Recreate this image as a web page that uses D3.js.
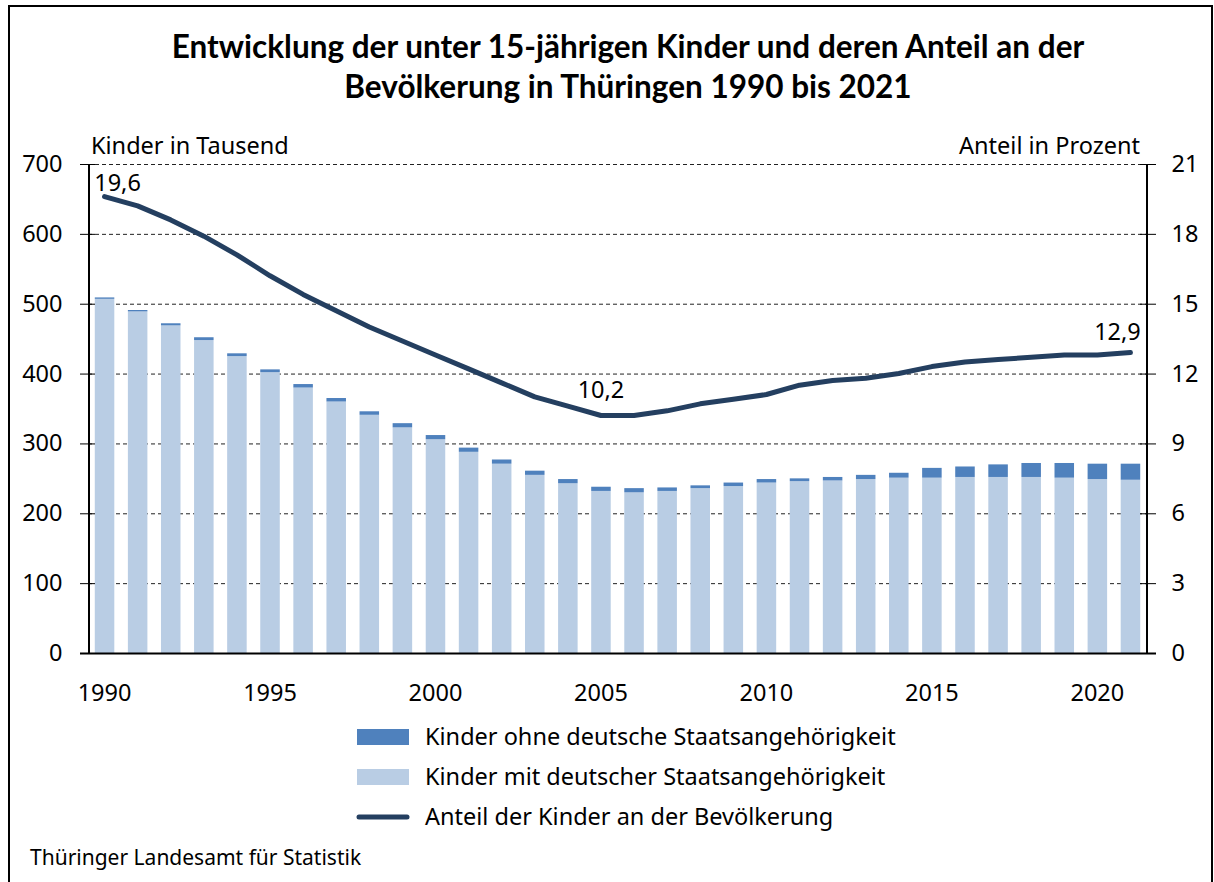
<!DOCTYPE html>
<html>
<head>
<meta charset="utf-8">
<script src="https://cdn.jsdelivr.net/npm/d3@7"></script>
<style>
  body { margin: 0; background: #fff; }
  svg text { font-family: "Noto Sans", "Lato", sans-serif; fill: #000; }
</style>
</head>
<body>
<div id="chart"></div>
<script>
//////// DATA ////////
var years = [1990, 1991, 1992, 1993, 1994, 1995, 1996, 1997, 1998, 1999,
             2000, 2001, 2002, 2003, 2004, 2005, 2006, 2007, 2008, 2009,
             2010, 2011, 2012, 2013, 2014, 2015, 2016, 2017, 2018, 2019,
             2020, 2021];
// Kinder mit deutscher Staatsangehörigkeit (Tausend)
var german = [507, 489, 469, 448, 425, 402, 380, 360, 341, 323,
              306, 288, 271, 255, 243, 232, 230, 232, 236, 239,
              244, 246, 247, 249, 251, 251, 252, 252, 252, 251,
              249, 248];
// Kinder ohne deutsche Staatsangehörigkeit (Tausend)
var foreign = [2, 2, 3, 4, 4, 4, 5, 5, 5, 6,
               6, 6, 6, 6, 6, 6, 6, 5, 4, 5,
               5, 4, 5, 6, 7, 14, 15, 18, 20, 21,
               22, 23];
// Anteil der Kinder an der Bevölkerung (Prozent)
var share = [19.6, 19.2, 18.6, 17.9, 17.1, 16.2, 15.4, 14.7, 14.0, 13.4,
             12.8, 12.2, 11.6, 11.0, 10.6, 10.2, 10.2, 10.4, 10.7, 10.9,
             11.1, 11.5, 11.7, 11.8, 12.0, 12.3, 12.5, 12.6, 12.7, 12.8,
             12.8, 12.9];
var leftTicks = [0, 100, 200, 300, 400, 500, 600, 700];
var rightTicks = [0, 3, 6, 9, 12, 15, 18, 21];
var xLabelYears = [1990, 1995, 2000, 2005, 2010, 2015, 2020];
var labelYears = [1990, 2005, 2021];
var legendItems = ["Kinder ohne deutsche Staatsangehörigkeit",
                   "Kinder mit deutscher Staatsangehörigkeit",
                   "Anteil der Kinder an der Bevölkerung"];

//////// CANVAS ////////
var width = 1214, height = 882;
var colDark = "#4f81bd", colLight = "#b9cde4", colLine = "#243f60";
var fs = "23.5px";

var svg = d3.select("#chart").append("svg")
    .attr("width", width).attr("height", height);

// frame
svg.append("path")
    .attr("d", "M9,884 L9,6 L1212,6 L1212,884")
    .attr("fill", "none").attr("stroke", "#000").attr("stroke-width", 2);

// title
var title = svg.append("text").attr("text-anchor", "middle")
    .style("font-family", "Lato, sans-serif")
    .style("font-weight", "bold").style("font-size", "31.5px");
title.append("tspan").attr("x", 628).attr("y", 58)
    .text("Entwicklung der unter 15-jährigen Kinder und deren Anteil an der");
title.append("tspan").attr("x", 628).attr("y", 98)
    .text("Bevölkerung in Thüringen 1990 bis 2021");

//////// SCALES ////////
var x = d3.scaleBand().domain(years).range([88, 1147])
    .paddingInner(0.41).paddingOuter(0.205);
var y = d3.scaleLinear().domain([0, 700]).range([653, 164]);
var y2 = d3.scaleLinear().domain([0, 21]).range([653, 164]);

// gridlines
svg.append("g").selectAll("line")
    .data(leftTicks.filter(function(d) { return d > 0; }))
    .enter().append("line")
    .attr("x1", 88).attr("x2", 1147)
    .attr("y1", function(d) { return y(d) + 0.5; })
    .attr("y2", function(d) { return y(d) + 0.5; })
    .attr("stroke", "#222").attr("stroke-width", 1)
    .attr("stroke-dasharray", "4,3");

//////// BARS ////////
var bars = svg.append("g");
bars.selectAll(".light").data(years).enter().append("rect")
    .attr("x", function(d) { return x(d); })
    .attr("width", x.bandwidth())
    .attr("y", function(d, i) { return y(german[i]); })
    .attr("height", function(d, i) { return y(0) - y(german[i]); })
    .attr("fill", colLight);
bars.selectAll(".dark").data(years).enter().append("rect")
    .attr("x", function(d) { return x(d); })
    .attr("width", x.bandwidth())
    .attr("y", function(d, i) { return y(german[i] + foreign[i]); })
    .attr("height", function(d, i) { return y(german[i]) - y(german[i] + foreign[i]); })
    .attr("fill", colDark);

//////// AXES ////////
var leftAxis = d3.axisLeft(y).tickValues(leftTicks).tickSize(0).tickPadding(26);
var gL = svg.append("g").attr("transform", "translate(88.5,0)").call(leftAxis);
var rightAxis = d3.axisRight(y2).tickValues(rightTicks).tickSize(0).tickPadding(25);
var gR = svg.append("g").attr("transform", "translate(1146.5,0)").call(rightAxis);
[gL, gR].forEach(function(g) {
  g.select(".domain").attr("stroke", "#000").attr("stroke-width", 2);
  g.selectAll("text").style("font-size", fs).style("font-family", "'Noto Sans', sans-serif").attr("fill", "#000");
});
// ticks crossing the axes
svg.append("g").selectAll("line").data(leftTicks).enter().append("line")
    .attr("x1", 80).attr("x2", 95)
    .attr("y1", function(d) { return y(d) + 0.5; }).attr("y2", function(d) { return y(d) + 0.5; })
    .attr("stroke", "#000");
svg.append("g").selectAll("line").data(rightTicks).enter().append("line")
    .attr("x1", 1140).attr("x2", 1156)
    .attr("y1", function(d) { return y2(d) + 0.5; }).attr("y2", function(d) { return y2(d) + 0.5; })
    .attr("stroke", "#000");
// baseline
svg.append("line").attr("x1", 80).attr("x2", 1156)
    .attr("y1", y(0) + 0.5).attr("y2", y(0) + 0.5)
    .attr("stroke", "#000").attr("stroke-width", 2);

// x labels
svg.append("g").selectAll("text").data(xLabelYears).enter().append("text")
    .attr("x", function(d) { return x(d) + x.bandwidth() / 2; })
    .attr("y", 701).attr("text-anchor", "middle")
    .style("font-size", fs).text(function(d) { return d; });

// axis titles
svg.append("text").attr("x", 91).attr("y", 154).style("font-size", fs).text("Kinder in Tausend");
svg.append("text").attr("x", 1140).attr("y", 154).attr("text-anchor", "end")
    .style("font-size", fs).text("Anteil in Prozent");

//////// LINE ////////
var line = d3.line()
    .x(function(d, i) { return x(years[i]) + x.bandwidth() / 2; })
    .y(function(d) { return y2(d); });
svg.append("path").datum(share)
    .attr("d", line).attr("fill", "none")
    .attr("stroke", colLine).attr("stroke-width", 5)
    .attr("stroke-linecap", "round").attr("stroke-linejoin", "round");

// data labels
var labelDx = { 1990: 13, 2005: 0, 2021: -13 };
var labelDy = { 1990: -6, 2005: -17, 2021: -13 };
svg.append("g").selectAll("text").data(labelYears).enter().append("text")
    .attr("x", function(d) { return x(d) + x.bandwidth() / 2 + labelDx[d]; })
    .attr("y", function(d) { return y2(share[years.indexOf(d)]) + labelDy[d]; })
    .attr("text-anchor", "middle").style("font-size", fs)
    .text(function(d) { return d3.format(".1f")(share[years.indexOf(d)]).replace(".", ","); });

//////// LEGEND ////////
var legend = svg.append("g").selectAll("g").data(legendItems).enter().append("g")
    .attr("transform", function(d, i) { return "translate(357," + (737 + i * 40) + ")"; });
legend.filter(function(d, i) { return i < 2; }).append("rect")
    .attr("x", 0).attr("y", -8).attr("width", 52).attr("height", 16)
    .attr("fill", function(d, i) { return i === 0 ? colDark : colLight; });
legend.filter(function(d, i) { return i === 2; }).append("line")
    .attr("x1", 2).attr("x2", 50).attr("y1", 0).attr("y2", 0)
    .attr("stroke", colLine).attr("stroke-width", 5).attr("stroke-linecap", "round");
legend.append("text").attr("x", 68).attr("y", 8)
    .style("font-size", fs).text(function(d) { return d; });

// source
svg.append("text").attr("x", 30).attr("y", 865).style("font-size", "21px")
    .text("Thüringer Landesamt für Statistik");
</script>
</body>
</html>
